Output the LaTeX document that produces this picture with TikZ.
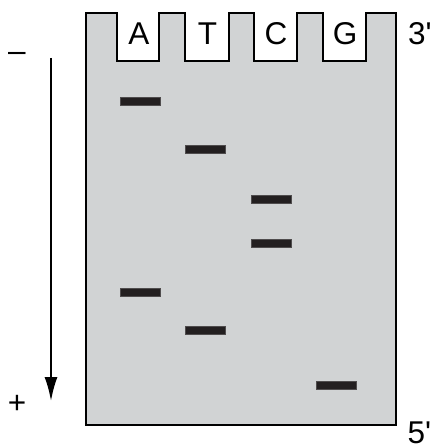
\documentclass[tikz,border=0pt]{standalone}
\usepackage{fontspec}
\setmainfont{Liberation Sans}
\usetikzlibrary{arrows.meta}
\definecolor{gelgray}{HTML}{D1D3D4}
\definecolor{bandink}{HTML}{231F20}

\begin{document}
\begin{tikzpicture}[x=1pt,y=-1pt,
  lbl/.style={font=\fontsize{31.5}{36}\selectfont,inner sep=0pt},
  band/.style={fill=bandink,draw=bandink!80,line width=0.5pt}]
\useasboundingbox (0,0) rectangle (433,446);

% gel with the four wells
 \draw[line width=2.2pt,fill=gelgray,line join=miter]
   (86,13)--(117,13)--(117,61)--(159,61)--(159,13)--(185,13)--(185,61)--(229,61)--(229,13)
   --(254,13)--(254,61)--(297,61)--(297,13)--(323,13)--(323,61)--(366,61)--(366,13)
   --(396,13)--(396,425)--(86,425)--cycle;

 \node[lbl,anchor=base] (laneA) at (139,44.5) {A};
 \node[lbl,anchor=base] (laneT) at (207.5,44.5) {T};
 \node[lbl,anchor=base] (laneC) at (276,44.5) {C};
 \node[lbl,anchor=base] (laneG) at (345,44.5) {G};

 \node[lbl,anchor=base west] (end3) at (408,44.5) {3\textquotesingle};
 \node[lbl,anchor=base west] (end5) at (407.5,443) {5\textquotesingle};

% bands
 \foreach \x/\y in {140/101.5,205/149,271/199,271/243.5,140/292,205/330,336/385.5}
   \fill[band] (\x-20,\y-4) rectangle (\x+20,\y+4);

% direction of migration
 \node[lbl] (minus) at (17,57) {–};
 \node[lbl] (plus) at (17,404) {+};
 \coordinate (top) at (51,58);
 \coordinate (bottom) at (51,401);
 \draw[line width=1.8pt,-{Latex[length=24pt,width=13pt]}] (top)--(bottom);

\end{tikzpicture}
\end{document}
